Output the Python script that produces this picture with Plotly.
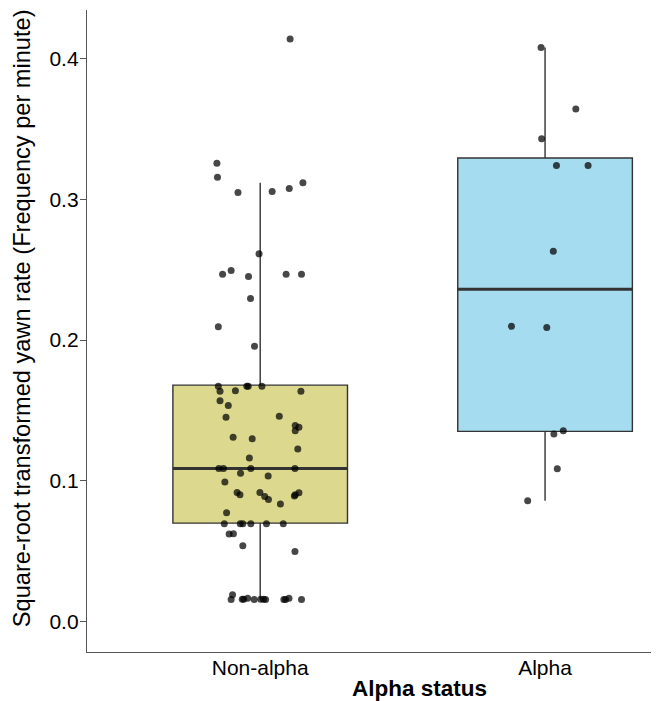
import plotly.graph_objects as go

# ---- data ----
categories = ["Non-alpha", "Alpha"]
box_fill = ["#DCD98F", "#A6DCEF"]

# box statistics
lower_whisker = [0.0159, 0.0860]
q1_values = [0.0701, 0.1352]
median_values = [0.1089, 0.2361]
q3_values = [0.1680, 0.3292]
upper_whisker = [0.3117, 0.4076]

# jittered points: values and horizontal jitter offsets (in category units)
nonalpha_values = [
    0.4137, 0.3256, 0.3155, 0.3048, 0.3055, 0.3076, 0.3117, 0.2612, 0.2468, 0.2494,
    0.2451, 0.2468, 0.2468, 0.2295, 0.2094, 0.1956, 0.1672, 0.1636, 0.1641, 0.1672,
    0.1672, 0.1672, 0.1636, 0.1570, 0.1535, 0.1452, 0.1459, 0.1393, 0.1381, 0.1357,
    0.1310, 0.1300, 0.1227, 0.1163, 0.1089, 0.1089, 0.1089, 0.1089, 0.1054, 0.1035,
    0.0993, 0.0919, 0.0902, 0.0919, 0.0890, 0.0869, 0.0902, 0.0917, 0.0893, 0.0836,
    0.0774, 0.0696, 0.0696, 0.0696, 0.0696, 0.0696, 0.0696, 0.0623, 0.0625, 0.0540,
    0.0500, 0.0192, 0.0159, 0.0161, 0.0161, 0.0168, 0.0159, 0.0161, 0.0161, 0.0159,
    0.0159, 0.0159, 0.0168, 0.0159,
]
nonalpha_jitter = [
    0.105, -0.152, -0.150, -0.078, 0.042, 0.102, 0.150, -0.004, -0.132, -0.102,
    -0.041, 0.091, 0.145, -0.034, -0.147, -0.020, -0.147, -0.141, -0.087, -0.047,
    -0.042, 0.006, 0.143, -0.141, -0.112, -0.120, 0.067, 0.123, 0.136, 0.123,
    -0.095, -0.028, 0.132, -0.038, -0.145, -0.129, -0.033, 0.122, -0.069, 0.028,
    -0.124, -0.081, -0.071, -0.001, 0.016, 0.029, 0.123, 0.136, 0.120, 0.071,
    -0.118, -0.126, -0.070, -0.061, -0.033, 0.022, 0.081, -0.109, -0.094, -0.061,
    0.122, -0.097, -0.102, -0.063, -0.058, -0.044, -0.021, 0.002, 0.012, 0.019,
    0.083, 0.089, 0.101, 0.145,
]
alpha_values = [0.4076, 0.3640, 0.3430, 0.3240, 0.3240, 0.2630, 0.2098, 0.2089,
                0.1334, 0.1357, 0.1087, 0.0860]
alpha_jitter = [-0.014, 0.108, -0.012, 0.040, 0.151, 0.029, -0.118, 0.006,
                0.031, 0.064, 0.043, -0.061]

y_tick_values = [0.0, 0.1, 0.2, 0.3, 0.4]

# ---- figure ----
FONT = "Liberation Sans, Arial, sans-serif"
BOX_WIDTH = 0.613
# the page body has an 8px default margin; size the figure so it fits the window
OFF = 8
FIG_W, FIG_H = 659 - OFF, 701 - OFF
PLOT_L, PLOT_T, PLOT_B = 87 - OFF, 10 - OFF, 651.7 - OFF
PLOT_H = PLOT_B - PLOT_T
PLOT_W = FIG_W - PLOT_L

fig = go.Figure()

for i, cat in enumerate(categories):
    pos = i + 1
    fig.add_trace(go.Box(
        x=[pos], q1=[q1_values[i]], median=[median_values[i]], q3=[q3_values[i]],
        lowerfence=[lower_whisker[i]], upperfence=[upper_whisker[i]],
        width=BOX_WIDTH, whiskerwidth=0, fillcolor=box_fill[i],
        line=dict(color="#333333", width=1.4), boxpoints=False,
        hoverinfo="skip", showlegend=False,
    ))
    fig.add_trace(go.Scatter(
        x=[pos - BOX_WIDTH / 2, pos + BOX_WIDTH / 2],
        y=[median_values[i], median_values[i]],
        mode="lines", line=dict(color="#333333", width=3),
        hoverinfo="skip", showlegend=False,
    ))

point_sets = [(nonalpha_values, nonalpha_jitter), (alpha_values, alpha_jitter)]
for i, (vals, jit) in enumerate(point_sets):
    pos = i + 1
    fig.add_trace(go.Scatter(
        x=[pos + j for j in jit], y=vals, mode="markers",
        marker=dict(color="black", size=7, opacity=0.72, line=dict(width=0)),
        hoverinfo="skip", showlegend=False,
    ))

fig.update_layout(
    width=FIG_W, height=FIG_H,
    margin=dict(l=PLOT_L, r=0, t=PLOT_T, b=FIG_H - PLOT_B, autoexpand=False),
    plot_bgcolor="white", paper_bgcolor="white",
    font=dict(family=FONT, color="black", size=21),
    boxmode="overlay",
    xaxis=dict(
        range=[0.392, 2.4], tickvals=[1, 2], ticktext=categories,
        showline=True, linecolor="#555555", linewidth=1.3,
        ticks="", showgrid=False, zeroline=False, automargin=False,
        ticklabelstandoff=-3,
        tickfont=dict(size=21, color="black", family=FONT),
    ),
    yaxis=dict(
        range=[-0.0214, 0.4343], tickvals=y_tick_values, tickformat=".1f",
        showline=True, linecolor="#555555", linewidth=1.3,
        ticks="outside", ticklen=6, tickcolor="#555555", tickwidth=1.2,
        showgrid=False, zeroline=False, automargin=False,
        ticklabelstandoff=-3,
        tickfont=dict(size=21, color="black", family=FONT),
    ),
    annotations=[
        dict(text="Square-root transformed yawn rate (Frequency per minute)",
             textangle=-90, xref="paper", yref="paper",
             x=(22 - 87) / PLOT_W, y=(651.7 - 318) / PLOT_H,
             xanchor="center", yanchor="middle",
             showarrow=False, font=dict(size=23.6, color="black", family=FONT)),
        dict(text="<b>Alpha status</b>", xref="paper", yref="paper",
             x=(419 - 87) / PLOT_W, y=-(688 - 651.7) / PLOT_H,
             xanchor="center", yanchor="middle",
             showarrow=False, font=dict(size=22.5, color="black", family=FONT)),
    ],
)

fig.write_html("out.html")
